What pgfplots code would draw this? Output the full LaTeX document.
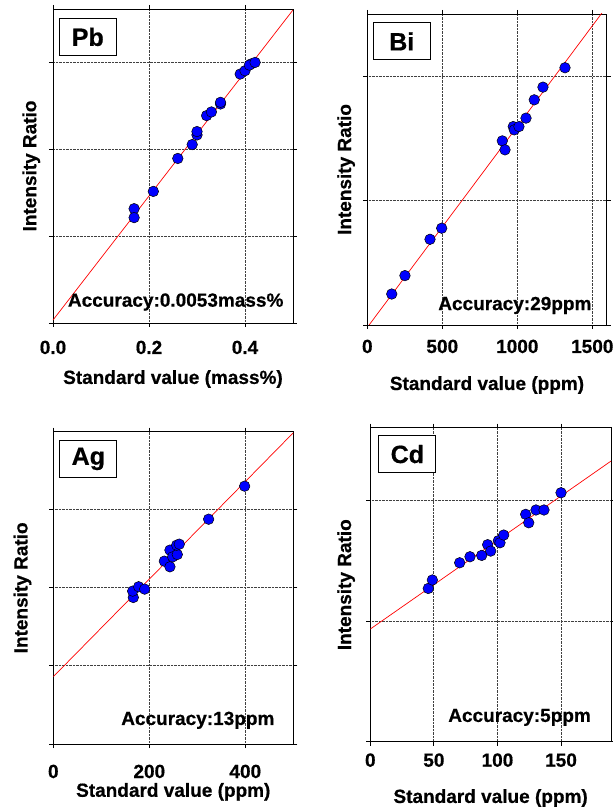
\documentclass[border=0pt]{standalone}
\usepackage{fontspec}
\setmainfont{Liberation Sans}[BoldFeatures={FakeBold=0.6}]
\usepackage{pgfplots}
\pgfplotsset{compat=1.18}

\pgfplotsset{
  panel/.style={
    scale only axis, anchor=south west,
    axis line style={black, line width=0.8pt},
    tick align=outside, major tick length=4pt,
    tick style={black, line width=0.8pt},
    grid=major, major grid style={black!75, densely dotted, line width=0.9pt},
    ymin=0, yticklabels={},
    xticklabel style={font=\fontsize{19}{21}\selectfont\bfseries, anchor=base},
    xlabel style={font=\fontsize{19}{21}\selectfont\bfseries, anchor=base},
    ylabel style={font=\fontsize{19}{21}\selectfont\bfseries, anchor=base},
    ylabel={Intensity Ratio},
    /pgf/number format/assume math mode=true,
  },
  fitline/.style={red, line width=0.7pt, no markers},
  pts/.style={only marks, mark=*, mark size=5.3pt,
    mark options={fill=blue, draw=black, line width=0.5pt}},
}
\tikzset{
  elem/.style={draw=black, line width=0.9pt, fill=white, inner sep=0pt,
    minimum width=57pt, minimum height=37pt,
    font=\fontsize{25}{25}\selectfont\bfseries},
  acc/.style={anchor=base east, font=\fontsize{19}{21}\selectfont\bfseries},
}

\begin{document}
\begin{tikzpicture}[x=1pt,y=1pt]

% Pb
\begin{axis}[panel, at={(53pt,484pt)}, width=240pt, height=314pt,
  xmin=0, xmax=0.5, ymax=3.62,
  xtick={0,0.2,0.4}, xticklabels={0.0,0.2,0.4},
  ytick={0,1,2,3},
  xticklabel style={yshift=-27pt},
  xlabel={Standard value (mass\%)},
  xlabel style={at={(axis description cs:0.5,-0.194)}},
  ylabel style={at={(axis description cs:-0.070,0.5)}}]
  \addplot[fitline] coordinates {(0,0.034) (0.5,3.609)};
  \addplot[pts] table {
    0.169 1.318
    0.169 1.215
    0.209 1.517
    0.260 1.897
    0.290 2.057
    0.300 2.168
    0.300 2.207
    0.320 2.391
    0.330 2.433
    0.349 2.525
    0.349 2.544
    0.390 2.870
    0.400 2.908
    0.412 2.985
    0.409 2.973
    0.421 3.004
  };
  \node[elem] at (axis description cs:0.145,0.911) {Pb};
  \node[acc] at (axis description cs:0.975,0.052) {Accuracy:0.0053mass\%};
\end{axis}

% Bi
\begin{axis}[panel, at={(367.3pt,482pt)}, width=239.4pt, height=311pt,
  xmin=0, xmax=1596, ymax=2.5,
  xtick={0,500,1000,1500}, xticklabels={0,500,1000,1500},
  ytick={0,1,2},
  xticklabel style={yshift=-24pt},
  xlabel={Standard value (ppm)},
  xlabel style={at={(axis description cs:0.5,-0.209)}},
  ylabel style={at={(axis description cs:-0.068,0.5)}}]
  \addplot[fitline] coordinates {(0,-0.0193) (1600,2.566)};
  \addplot[pts] table {
    163 0.249
    251 0.397
    418 0.689
    496 0.778
    900 1.480
    918 1.408
    973 1.595
    980 1.569
    1011 1.595
    1058 1.663
    1113 1.810
    1171 1.912
    1318 2.068
  };
  \node[elem] at (axis description cs:0.144,0.912) {Bi};
  \node[acc] at (axis description cs:0.951,0.048) {Accuracy:29ppm};
\end{axis}

% Ag
\begin{axis}[panel, at={(53.3pt,63pt)}, width=240pt, height=312.3pt,
  xmin=0, xmax=500, ymax=3.99,
  xtick={0,200,400}, xticklabels={0,200,400},
  ytick={0,1,2,3},
  xticklabel style={yshift=-30pt},
  xlabel={Standard value (ppm)},
  xlabel style={at={(axis description cs:0.5,-0.169)}},
  ylabel style={at={(axis description cs:-0.1075,0.5)}}]
  \addplot[fitline] coordinates {(0,0.86) (500,3.976)};
  \addplot[pts] table {
    166.7 1.872
    165.3 1.953
    177.8 2.009
    190.3 1.979
    231.3 2.336
    243.0 2.264
    243.0 2.477
    248.6 2.391
    258.3 2.421
    257.0 2.540
    262.5 2.553
    323.6 2.872
    398.6 3.294
  };
  \node[elem] at (axis description cs:0.146,0.913) {Ag};
  \node[acc] at (axis description cs:0.936,0.061) {Accuracy:13ppm};
\end{axis}

% Cd
\begin{axis}[panel, at={(370.3pt,65.3pt)}, width=240.7pt, height=314pt,
  xmin=0, xmax=189.3, ymax=2.606,
  xtick={0,50,100,150}, xticklabels={0,50,100,150},
  ytick={0,1,2},
  xticklabel style={yshift=-21pt},
  xlabel={Standard value (ppm)},
  xlabel style={at={(axis description cs:0.5,-0.195)}},
  ylabel style={at={(axis description cs:-0.080,0.5)}}]
  \addplot[fitline] coordinates {(0,0.935) (189.3,2.329)};
  \addplot[pts] table {
    45.6 1.272
    48.8 1.342
    70.3 1.485
    78.4 1.535
    87.6 1.546
    92.3 1.635
    94.7 1.582
    100.7 1.668
    102.0 1.651
    104.9 1.715
    122.2 1.887
    124.6 1.817
    130.3 1.923
    136.6 1.923
    150.0 2.066
  };
  \node[elem] at (axis description cs:0.154,0.916) {Cd};
  \node[acc] at (axis description cs:0.931,0.063) {Accuracy:5ppm};
\end{axis}

\pgfresetboundingbox
\useasboundingbox (0,0) rectangle (613pt,807pt);
\end{tikzpicture}
\end{document}
